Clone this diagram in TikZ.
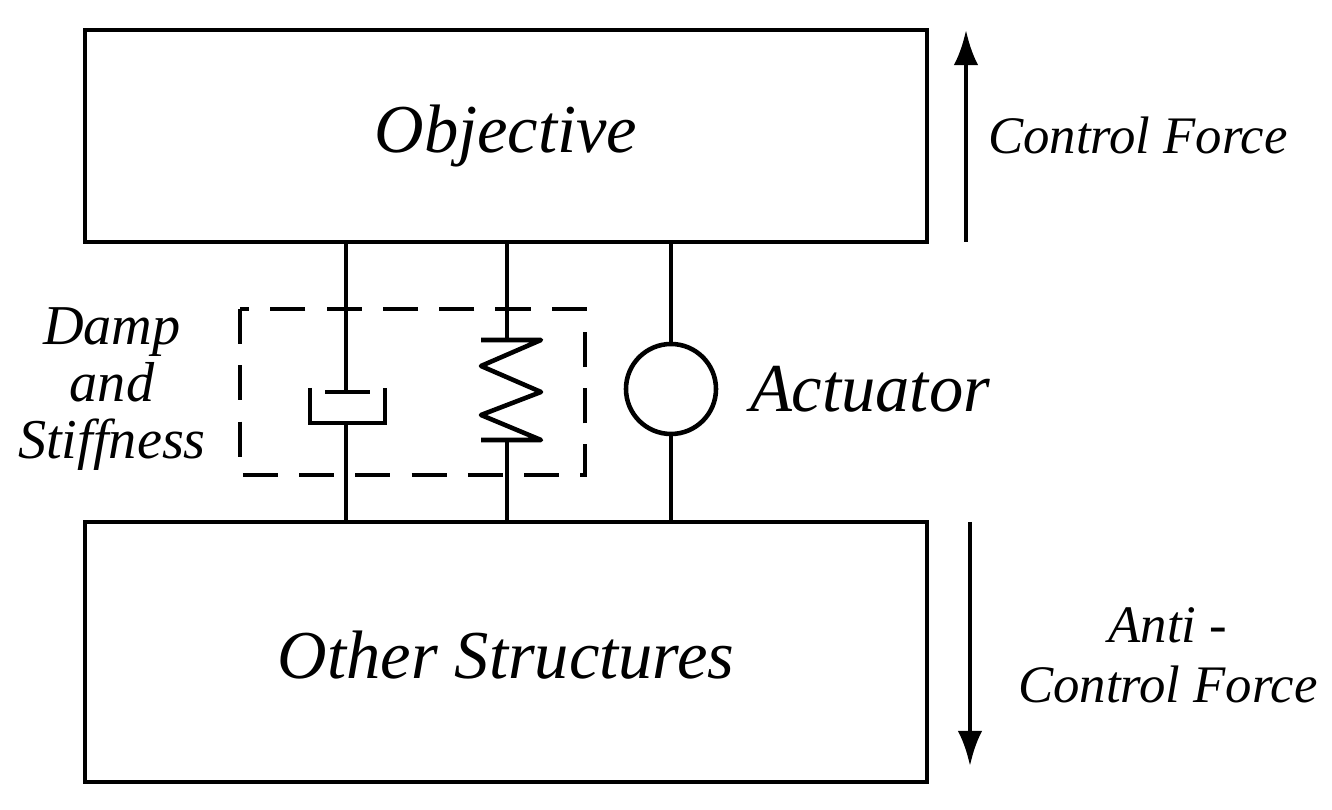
\documentclass[tikz,border=0pt]{standalone}
\usepackage{fontspec}
\setmainfont{Liberation Serif}
\usetikzlibrary{arrows.meta}
\begin{document}
\begin{tikzpicture}[x=0.01cm,y=-0.01cm,line width=1.3pt,
  big/.style={font=\fontsize{19.5}{22}\selectfont\itshape},
  lbl/.style={font=\fontsize{15}{17}\selectfont\itshape,align=center},
  arr/.style={-{Latex[length=10pt,width=7pt]},line width=1.3pt}]
\useasboundingbox (0,0) rectangle (1332,810);
% boxes
\draw (85,30) rectangle (927,242);
\node[big] (objt) at (506,136) {Objective};
\draw (85,522) rectangle (927,782);
\node[big] (oth) at (506,655) {Other Structures};
% dashed enclosure
\draw[dash pattern=on 10pt off 6pt] (240,309) rectangle (585,475);
% damper
\draw (346,242) -- (346,392);
\draw (325,392) -- (370,392);
\draw (310,388) -- (310,423) -- (385,423) -- (385,388);
\draw (346,423) -- (346,522);
% spring
\draw (507,242) -- (507,340);
\draw[line join=round] (481,340) -- (541,340) -- (481,366) -- (541,392) -- (481,415) -- (541,440) -- (481,440);
\draw (507,440) -- (507,522);
% actuator
\draw (671,242) -- (671,344);
\draw (671,389) circle (45);
\draw (671,434) -- (671,522);
% labels
\node[big] (act) at (870,389) {Actuator};
\node[lbl,font=\fontsize{16}{16.2}\selectfont\itshape] (dmp) at (112,389) {Damp\\and\\Stiffness};
\node[lbl] (cf) at (1138,135) {Control Force};
\node[lbl,font=\fontsize{15}{17}\selectfont\itshape] (acf) at (1168,655) {Anti -\\Control Force};
% force arrows
\coordinate (u0) at (966,242); \coordinate (u1) at (966,30);
\coordinate (d0) at (970,522); \coordinate (d1) at (970,766);
\draw[arr] (u0) -- (u1);
\draw[arr] (d0) -- (d1);
\end{tikzpicture}
\end{document}
